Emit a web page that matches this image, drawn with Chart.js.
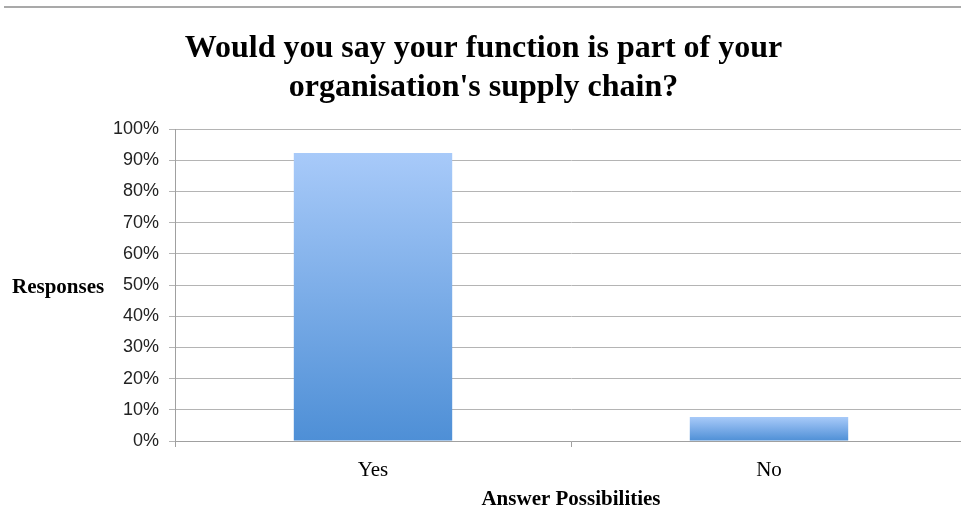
<!DOCTYPE html>
<html lang="en">
<head>
    <meta charset="UTF-8">
    <title>Supply Chain Survey</title>
    <script src="https://cdn.jsdelivr.net/npm/chart.js"></script>
    <style>
      body {
        margin: 0;
        overflow: hidden;
        background: #fff;
      }
      #wrap {
        position: absolute;
        left: 0;
        top: 0;
        width: 975px;
        height: 515px;
      }
    </style>
</head>
<body>
    <div id="wrap"><canvas id="myChart"></canvas></div>

    <script>
    // data
    const answers = ['Yes', 'No'];
    const responses = [0.923, 0.077];
    const titleLines = ['Would you say your function is part of your', "organisation's supply chain?"];
    const yTitle = 'Responses';
    const xTitle = 'Answer Possibilities';

    const serif = "'Liberation Serif', 'Times New Roman', serif";
    const sans = "'Liberation Sans', Arial, sans-serif";

    // gradient per bar, light at the top, darker at the base
    function barFill(context) {
        const chart = context.chart;
        if (!chart.chartArea) return '#7aaae8';
        const y = chart.scales.y;
        const top = y.getPixelForValue(context.raw);
        const bottom = y.getPixelForValue(0);
        const g = chart.ctx.createLinearGradient(0, top, 0, bottom);
        g.addColorStop(0, '#a8caf9');
        g.addColorStop(1, '#4e8fd6');
        return g;
    }

    // top rule and the horizontal "Responses" label
    const extras = {
        id: 'extras',
        beforeDraw(chart) {
            const c = chart.ctx;
            c.save();
            c.strokeStyle = '#a9a9a9';
            c.lineWidth = 2;
            c.beginPath();
            c.moveTo(4, 7);
            c.lineTo(chart.width, 7);
            c.stroke();
            c.restore();
        },
        afterDraw(chart) {
            const c = chart.ctx;
            c.save();
            c.font = 'bold 21px ' + serif;
            c.fillStyle = '#000';
            c.textAlign = 'left';
            c.textBaseline = 'middle';
            c.fillText(yTitle, 12, 288);
            c.restore();
        }
    };

    const ctx = document.getElementById('myChart').getContext('2d');
    new Chart(ctx, {
        type: 'bar',
        data: {
            labels: answers,
            datasets: [{
                data: responses,
                backgroundColor: barFill,
                borderWidth: 0,
                categoryPercentage: 1,
                barPercentage: 0.4
            }]
        },
        options: {
            responsive: true,
            maintainAspectRatio: false,
            animation: false,
            layout: { padding: { left: 0, right: 8, top: 0, bottom: 0 } },
            plugins: {
                legend: { display: false },
                tooltip: { enabled: false },
                title: {
                    display: true,
                    text: titleLines,
                    color: '#000',
                    font: { family: serif, size: 32, weight: 'bold', lineHeight: 1.22 },
                    padding: { top: 29, bottom: 22 }
                }
            },
            scales: {
                x: {
                    grid: {
                        drawOnChartArea: false,
                        drawTicks: true,
                        tickLength: 6,
                        color: '#a0a0a0',
                        offset: true
                    },
                    border: { color: '#a0a0a0', width: 1 },
                    ticks: {
                        color: '#000',
                        font: { family: serif, size: 21 },
                        padding: 11
                    },
                    title: {
                        display: true,
                        text: xTitle,
                        color: '#000',
                        font: { family: serif, size: 21, weight: 'bold' },
                        padding: { top: 4, bottom: 3 }
                    },
                    afterFit(scale) { scale.height = 74; }
                },
                y: {
                    min: 0,
                    max: 1,
                    grid: {
                        color: '#b4b4b4',
                        tickLength: 6
                    },
                    border: { color: '#a0a0a0', width: 1 },
                    ticks: {
                        stepSize: 0.1,
                        color: '#222',
                        padding: 10,
                        font: { family: sans, size: 18 },
                        callback: v => Math.round(v * 100) + '%'
                    },
                    afterFit(scale) { scale.width = 175; }
                }
            }
        },
        plugins: [extras]
    });
    </script>
</body>
</html>
